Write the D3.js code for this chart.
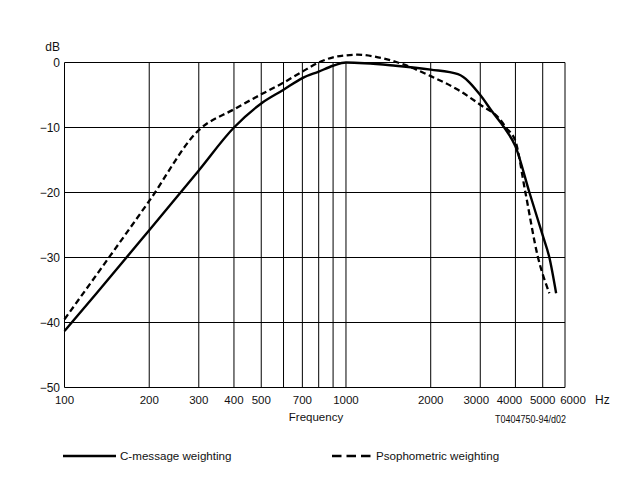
<!DOCTYPE html>
<html>
<head>
<meta charset="utf-8">
<script src="https://cdn.jsdelivr.net/npm/d3@7"></script>
<style>
  body { margin: 0; background: #fff; }
  svg { display: block; font-family: "Liberation Sans", Arial, sans-serif; }
</style>
</head>
<body>
<div id="chart"></div>
<script>
// C-message weighting (solid)
const cFreq = [100, 130, 200, 300, 400, 500, 600, 700, 800, 900, 1000, 1500, 2000, 2500, 3000, 3300, 3650, 4000, 4485, 5000, 5280, 5580];
const cDb   = [-41.3, -35.5, -25.8, -16.6, -10, -6.3, -4.2, -2.4, -1.4, -0.5, 0, -0.5, -1.1, -1.8, -5.0, -7.5, -10, -12.9, -20, -26.6, -30, -35.5];

// Psophometric weighting (dashed)
const pFreq = [100, 145, 200, 300, 400, 500, 600, 700, 800, 900, 1000, 1100, 1300, 1600, 2000, 2500, 3000, 3500, 3700, 4000, 4340, 4800, 5280];
const pDb   = [-39.5, -29.8, -21.3, -10.4, -7.2, -4.9, -3.1, -1.4, 0, 0.8, 1.1, 1.2, 0.8, -0.3, -2.1, -4.2, -6.5, -8.6, -10, -12.1, -20, -29.8, -35.5];

const gridFreqs = [100, 200, 300, 400, 500, 600, 700, 800, 900, 1000, 2000, 3000, 4000, 5000, 6000];
const tickFreqs = [100, 200, 300, 400, 500, 700, 1000, 2000, 3000, 4000, 5000, 6000];
const dbTicks = [0, -10, -20, -30, -40, -50];

const W = 623, H = 477;
const svg = d3.select('#chart').append('svg').attr('width', W).attr('height', H);

const x = d3.scaleLog().domain([100, 6000]).range([64.5, 565]);
const y = d3.scaleLinear().domain([-50, 0]).range([387.5, 62.5]);

// grid
svg.append('g').selectAll('line').data(gridFreqs).join('line')
  .attr('x1', d => x(d)).attr('x2', d => x(d))
  .attr('y1', y(0)).attr('y2', y(-50))
  .attr('stroke', '#000').attr('stroke-width', 1);
svg.append('g').selectAll('line').data(dbTicks).join('line')
  .attr('x1', x(100)).attr('x2', x(6000))
  .attr('y1', d => y(d)).attr('y2', d => y(d))
  .attr('stroke', '#000').attr('stroke-width', 1);

// y labels
svg.append('g').selectAll('text').data(dbTicks).join('text')
  .attr('x', 60).attr('y', d => y(d) + 4.5)
  .attr('text-anchor', 'end').attr('font-size', '12px').attr('fill', '#111')
  .text(d => d === 0 ? '0' : '\u2212' + Math.abs(d));
svg.append('text').attr('x', 60).attr('y', 50.5).attr('text-anchor', 'end')
  .attr('font-size', '12px').attr('fill', '#111').text('dB');

// x labels; the crowded ones at the right are nudged apart like in the print
const nudge = { 3000: -4, 4000: -6, 6000: 8 };
svg.append('g').selectAll('text').data(tickFreqs).join('text')
  .attr('x', d => x(d) + (nudge[d] || 0)).attr('y', 403.5)
  .attr('text-anchor', 'middle').attr('font-size', '11.5px').attr('fill', '#111')
  .text(d => d);
svg.append('text').attr('x', 595).attr('y', 403.5)
  .attr('font-size', '12px').attr('fill', '#111').text('Hz');
svg.append('text').attr('x', 316).attr('y', 420.5).attr('text-anchor', 'middle')
  .attr('font-size', '11.5px').attr('fill', '#111').text('Frequency');
svg.append('text').attr('transform', 'translate(495,422.5) scale(0.9,1)')
  .attr('font-size', '10px').attr('fill', '#111').text('T0404750-94/d02');

// curves
const line = d3.line().x(d => x(d[0])).y(d => y(d[1])).curve(d3.curveMonotoneX);
svg.append('path').datum(d3.zip(cFreq, cDb)).attr('d', line)
  .attr('fill', 'none').attr('stroke', '#000').attr('stroke-width', 2.4);
svg.append('path').datum(d3.zip(pFreq, pDb)).attr('d', line)
  .attr('fill', 'none').attr('stroke', '#000').attr('stroke-width', 2.3)
  .attr('stroke-dasharray', '6,3.5');

// legend
svg.append('line').attr('x1', 63).attr('x2', 116).attr('y1', 456).attr('y2', 456)
  .attr('stroke', '#000').attr('stroke-width', 2.6);
svg.append('text').attr('x', 120).attr('y', 460)
  .attr('font-size', '11.6px').attr('fill', '#111').text('C-message weighting');
svg.append('line').attr('x1', 332).attr('x2', 371).attr('y1', 456).attr('y2', 456)
  .attr('stroke', '#000').attr('stroke-width', 2.6).attr('stroke-dasharray', '9.5,5');
svg.append('text').attr('x', 376).attr('y', 460)
  .attr('font-size', '11.6px').attr('fill', '#111').text('Psophometric weighting');
</script>
</body>
</html>
